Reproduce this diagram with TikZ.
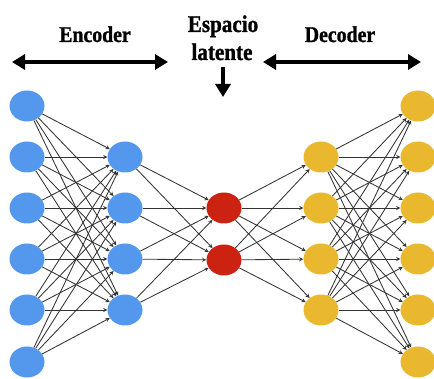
\documentclass[tikz,border=0pt]{standalone}
\usepackage{fontspec}
\setmainfont{Liberation Serif}[BoldFeatures={FakeBold=1.2}]
\usepackage{xcolor}
\usetikzlibrary{arrows}
\usetikzlibrary{arrows.meta}
\usetikzlibrary{shapes}

\definecolor{nblue}{RGB}{84,152,238}
\definecolor{nred}{RGB}{204,34,18}
\definecolor{nyellow}{RGB}{233,184,46}
\newcommand{\narrowtext}[1]{\scalebox{0.88}[1]{\bfseries #1}}

\begin{document}
\begin{tikzpicture}[x=1pt,y=-1pt,
  neuron/.style={ellipse,minimum width=35pt,minimum height=31pt,inner sep=0pt},
  link/.style={-stealth,black!80,line width=0.85pt},
  bigarrow/.style={{Triangle[length=13pt,width=15pt]}-{Triangle[length=13pt,width=15pt]},line width=3.2pt},
  title/.style={anchor=base,inner sep=0pt,font=\fontsize{22.5}{26}\selectfont\bfseries},
  midtitle/.style={anchor=base,inner sep=0pt,font=\fontsize{24}{28}\selectfont\bfseries}]
\useasboundingbox (0,0) rectangle (434,379);
% layers
\foreach \i/\y in {1/106,2/157,3/208,4/259,5/310,6/362}
\node[neuron,fill=nblue] (in\i) at (27,\y) {};
\foreach \i/\y in {1/157,2/208,3/259,4/310}
\node[neuron,fill=nblue] (enc\i) at (125,\y) {};
\foreach \i/\y in {1/208,2/260}
\node[neuron,fill=nred] (lat\i) at (224,\y) {};
\foreach \i/\y in {1/157,2/208,3/259,4/310}
\node[neuron,fill=nyellow] (dec\i) at (321,\y) {};
\foreach \i/\y in {1/106,2/157,3/208,4/259,5/310,6/362}
\node[neuron,fill=nyellow] (out\i) at (418,\y) {};
% connections
\foreach \i in {1,...,6}
\foreach \j in {1,...,4}
\draw[link] (in\i) -- (enc\j);
\foreach \i in {1,...,4}
\foreach \j in {1,2}
\draw[link] (enc\i) -- (lat\j);
\foreach \i in {1,2}
\foreach \j in {1,...,4}
\draw[link] (lat\i) -- (dec\j);
\foreach \i in {1,...,4}
\foreach \j in {1,...,6}
\draw[link] (dec\i) -- (out\j);
% titles
\node[title] (enctitle) at (95,42) {\narrowtext{Encoder}};
\node[title] (dectitle) at (340,42) {\narrowtext{Decoder}};
\node[midtitle] (esp) at (223,32) {\narrowtext{Espacio}};
\node[midtitle] (lattitle) at (222,60) {\narrowtext{latente}};
\coordinate (encl) at (12,62);
\coordinate (encr) at (168,62);
\coordinate (decl) at (263,62);
\coordinate (decr) at (421,62);
\coordinate (downtop) at (223,67);
\coordinate (downtip) at (223,97);
\draw[bigarrow] (encl) -- (encr);
\draw[bigarrow] (decl) -- (decr);
\draw[-{Triangle[length=13pt,width=15pt]},line width=3.2pt] (downtop) -- (downtip);
\end{tikzpicture}
\end{document}
